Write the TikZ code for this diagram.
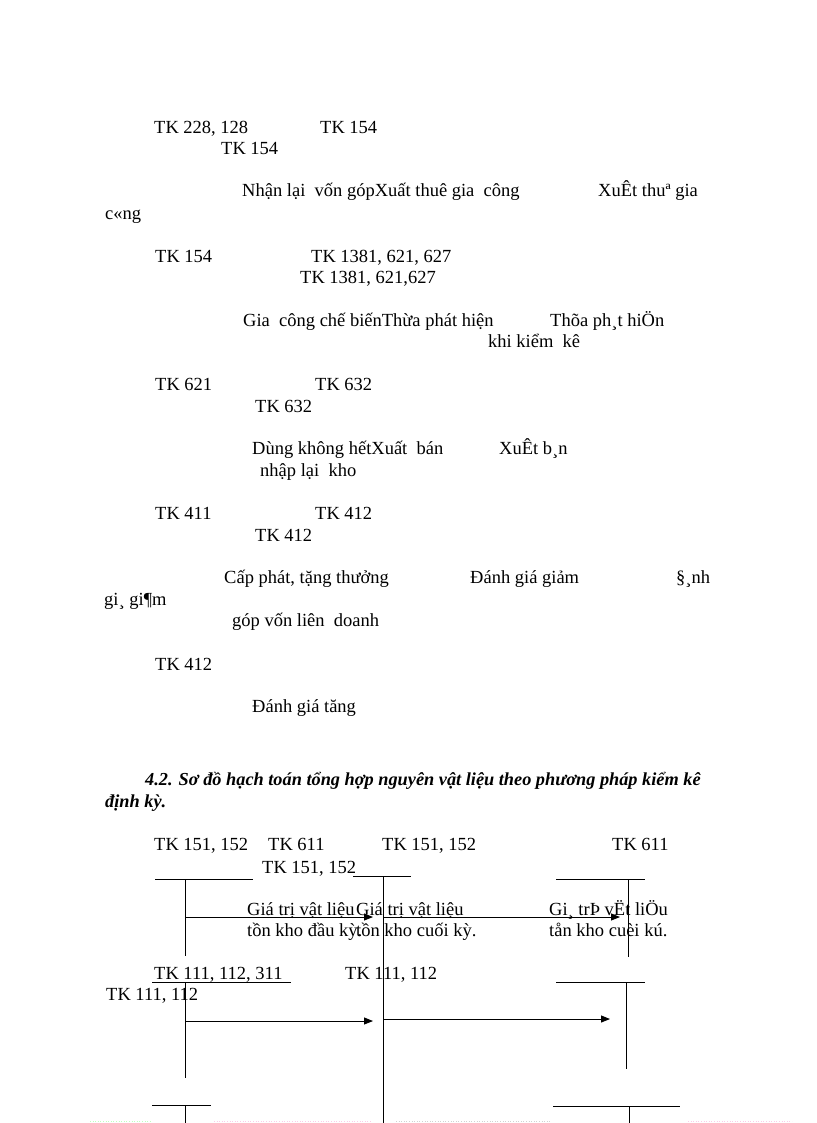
\documentclass[tikz,border=0pt]{standalone}
\usepackage{fontspec}
\setmainfont{Liberation Serif}
\usetikzlibrary{arrows.meta}
\begin{document}
\begin{tikzpicture}[x=1pt,y=-1pt,
  txt/.style={anchor=base west, inner sep=0pt, font=\fontsize{18.5}{21}\selectfont},
  ttl/.style={anchor=base west, inner sep=0pt, font=\fontsize{18.3}{21}\selectfont\bfseries\itshape},
  acc/.style={line width=1pt},
  flow/.style={line width=1pt, -{Triangle[length=9pt,width=7pt]}},
  dots/.style={line width=0.6pt, dotted}]
\fill[white] (0,0) rectangle (816,1123);
\useasboundingbox (0,0) rectangle (816,1123);
% ---- first part
\node[txt] (a1) at (154,134) {TK 228, 128};
\node[txt] (a2) at (320,134) {TK 154};
\node[txt] (a3) at (221,155) {TK 154};
\node[txt] (a4) at (242,197) {Nhận lại\ \ vốn gópXuất thuê gia\ \ công};
\node[txt] (a5) at (598,197) {XuÊt thuª gia};
\node[txt] (a6) at (105,219) {c«ng};
\node[txt] (b1) at (155,262) {TK 154};
\node[txt] (b2) at (311,262) {TK 1381, 621, 627};
\node[txt] (b3) at (300,283) {TK 1381, 621,627};
\node[txt] (b4) at (243,326) {Gia\ \ công chế biếnThừa phát hiện};
\node[txt] (b5) at (550,326) {Thõa ph¸t hiÖn};
\node[txt] (b6) at (488,347) {khi kiểm\ \ kê};
\node[txt] (c1) at (155,390) {TK 621};
\node[txt] (c2) at (315,390) {TK 632};
\node[txt] (c3) at (255,412) {TK 632};
\node[txt] (c4) at (252,454) {Dùng không hếtXuất\ \ bán};
\node[txt] (c5) at (499,454) {XuÊt b¸n};
\node[txt] (c6) at (260,476) {nhập lại\ \ kho};
\node[txt] (d1) at (155,519) {TK 411};
\node[txt] (d2) at (315,519) {TK 412};
\node[txt] (d3) at (255,541) {TK 412};
\node[txt] (d4) at (224,583) {Cấp phát, tặng thưởng};
\node[txt] (d5) at (470,583) {Đánh giá giảm};
\node[txt] (d6) at (676,583) {§¸nh};
\node[txt] (d7) at (104,605) {gi¸ gi¶m};
\node[txt] (d8) at (232,626) {góp vốn liên\ \ doanh};
\node[txt] (e1) at (155,670) {TK 412};
\node[txt] (e2) at (252,712) {Đánh giá tăng};
% ---- title
\node[ttl] (h1) at (145,785) {4.2. Sơ đồ hạch toán tổng hợp nguyên vật liệu theo phương pháp kiểm kê};
\node[ttl] (h2) at (105,807) {định kỳ.};
% ---- second diagram labels
\node[txt] (f1) at (154,850) {TK 151, 152};
\node[txt] (f2) at (268,850) {TK 611};
\node[txt] (f3) at (382,850) {TK 151, 152};
\node[txt] (f4) at (612,850) {TK 611};
\node[txt] (f5) at (262,873) {TK 151, 152};
\node[txt] (g1) at (247,915) {Giá trị vật liệu};
\node[txt] (g2) at (247,936) {tồn kho đầu kỳ.};
\node[txt] (g3) at (356,915) {Giá trị vật liệu};
\node[txt] (g4) at (356,936) {tồn kho cuối kỳ.};
\node[txt] (g5) at (549,915) {Gi¸ trÞ vËt liÖu};
\node[txt] (g6) at (549,936) {tån kho cuèi kú.};
\node[txt] (k1) at (154,979) {TK 111, 112, 311};
\node[txt] (k2) at (345,979) {TK 111, 112};
\node[txt] (k3) at (106,1000) {TK 111, 112};
% ---- T accounts
\coordinate (p1l) at (155,879); \coordinate (p1r) at (253,879);
\coordinate (p1t) at (185,879); \coordinate (p1b) at (185,956);
\coordinate (p2l) at (353,876); \coordinate (p2r) at (411,876);
\coordinate (p2t) at (383,876); \coordinate (p2b) at (383,1123);
\coordinate (p3l) at (556,879); \coordinate (p3r) at (645,879);
\coordinate (p3t) at (628,879); \coordinate (p3b) at (628,957);
\coordinate (p4l) at (152,982); \coordinate (p4r) at (291,982);
\coordinate (p4t) at (185,982); \coordinate (p4b) at (185,1078);
\coordinate (p5l) at (556,982); \coordinate (p5r) at (645,982);
\coordinate (p5t) at (626,982); \coordinate (p5b) at (626,1069);
\coordinate (p6l) at (152,1105); \coordinate (p6r) at (211,1105);
\coordinate (p6t) at (185,1105); \coordinate (p6b) at (185,1123);
\coordinate (p7l) at (553,1106); \coordinate (p7r) at (680,1106);
\coordinate (p7t) at (629,1106); \coordinate (p7b) at (629,1123);
\foreach \i in {1,...,7}{
  \draw[acc] (p\i l) -- (p\i r);
  \draw[acc] (p\i t) -- (p\i b);
}
% ---- flows
\coordinate (s1) at (185,917); \coordinate (e1a) at (373,917);
\coordinate (s2) at (383,917); \coordinate (e2a) at (620,917);
\coordinate (s3) at (185,1021); \coordinate (e3a) at (373,1021);
\coordinate (s4) at (383,1019); \coordinate (e4a) at (610,1019);
\draw[flow] (s1) -- (e1a);
\draw[flow] (s2) -- (e2a);
\draw[flow] (s3) -- (e3a);
\draw[flow] (s4) -- (e4a);
% ---- faint page marks
\coordinate (m1) at (90,1121); \coordinate (m2) at (150,1121);
\coordinate (m3) at (214,1121); \coordinate (m4) at (372,1121);
\coordinate (m5) at (396,1121); \coordinate (m6) at (551,1121);
\coordinate (m7) at (688,1121); \coordinate (m8) at (792,1121);
\draw[dots, green!25] (m1) -- (m2);
\draw[dots, magenta!20] (m3) -- (m4);
\draw[dots, gray!35] (m5) -- (m6);
\draw[dots, magenta!20] (m7) -- (m8);
\end{tikzpicture}
\end{document}
